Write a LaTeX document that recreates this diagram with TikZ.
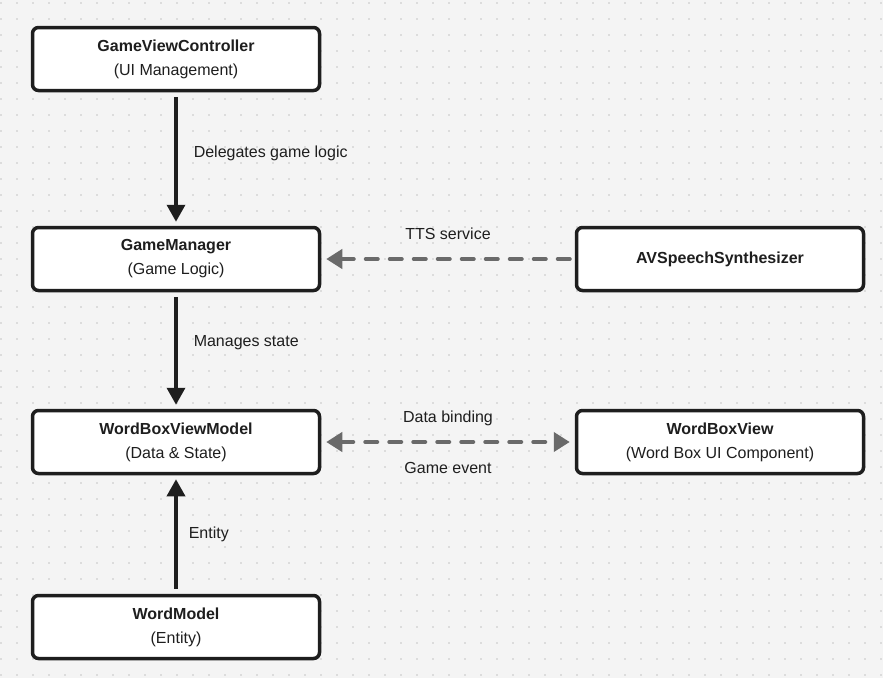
\documentclass[tikz,border=0pt]{standalone}
\usepackage{fontspec}
\setmainfont{Liberation Sans}
\usetikzlibrary{arrows.meta}
\definecolor{bgcol}{HTML}{F4F4F4}
\definecolor{dotcol}{HTML}{C4C4C4}
\definecolor{inkcol}{HTML}{1E1E1E}
\definecolor{linkcol}{HTML}{6A6A6A}
\begin{document}
\begin{tikzpicture}[x=1pt,y=-1pt,
    box/.style={draw=inkcol, line width=3.5pt, rounded corners=6pt, fill=white,
                minimum width=287pt, minimum height=63pt, align=center,
                text=inkcol, font=\fontsize{16}{24}\selectfont},
    flow/.style={draw=inkcol, line width=3.5pt, -{Triangle[length=17pt,width=18pt]}},
    link/.style={draw=linkcol, line width=4pt, dash pattern=on 12pt off 12pt, line cap=round,
                 -{Triangle[length=16pt,width=19pt]}},
    tag/.style={text=inkcol, font=\fontsize{16}{19}\selectfont, inner sep=0pt}]
            \fill [bgcol] (0,0) rectangle (883,678);
            \useasboundingbox (0,0) rectangle (883,678);
            
            % dotted grid
            \foreach \i in {0,...,55}
                \foreach \j in {0,...,42}
                    \fill [dotcol] (1+16*\i,3+16*\j) circle(0.9pt);
            
            \node [box] (gvc) at (176,59) {\textbf{GameViewController}\\(UI Management)};
            \node [box] (gm) at (176,259) {\textbf{GameManager}\\(Game Logic)};
            \node [box] (avs) at (720,259) {\textbf{AVSpeechSynthesizer}};
            \node [box] (wbvm) at (176,442) {\textbf{WordBoxViewModel}\\(Data \& State)};
            \node [box] (wbv) at (720,442) {\textbf{WordBoxView}\\(Word Box UI Component)};
            \node [box] (wm) at (176,627) {\textbf{WordModel}\\(Entity)};
            
            \draw [flow] ([yshift=-5pt]gvc.south) -- ([yshift=4pt]gm.north)
                node [tag, anchor=west, pos=0.45, xshift=16pt] {Delegates game logic};
            \draw [flow] ([yshift=-5pt]gm.south) -- ([yshift=4pt]wbvm.north)
                node [tag, anchor=west, pos=0.42, xshift=16pt] {Manages state};
            \draw [flow] ([yshift=5pt]wm.north) -- ([yshift=-4pt]wbvm.south)
                node [tag, anchor=west, pos=0.5, xshift=11pt] {Entity};
            
            \draw [link] ([xshift=-5pt]avs.west) -- ([xshift=5pt]gm.east)
                node [tag, midway, yshift=25pt] {TTS service};
            \draw [link, {Triangle[length=16pt,width=19pt]}-{Triangle[length=16pt,width=19pt]}]
                ([xshift=5pt]wbvm.east) -- ([xshift=-5pt]wbv.west)
                node [tag, midway, yshift=24pt] {Data binding}
                node [tag, midway, yshift=-26pt] {Game event};
    \end{tikzpicture}
\end{document}
